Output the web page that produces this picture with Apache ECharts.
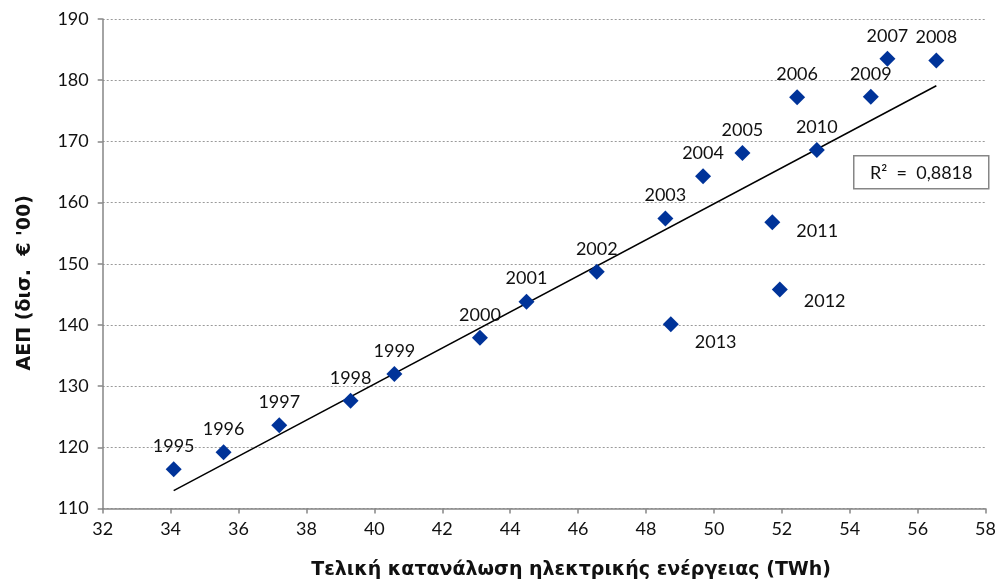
<!DOCTYPE html>
<html>
<head>
<meta charset="utf-8">
<script src="https://cdn.jsdelivr.net/npm/echarts@6/dist/echarts.min.js"></script>
<style>
  html, body { margin: 0; padding: 0; background: #ffffff; }
  #chart { width: 999px; height: 585px; }
</style>
</head>
<body>
<div id="chart"></div>
<script>
// Final electricity consumption (TWh) vs GDP (bn € 2000 prices), 1995–2013
const years = ['1995','1996','1997','1998','1999','2000','2001','2002','2003','2004',
               '2005','2006','2007','2008','2009','2010','2011','2012','2013'];
const consumption = [34.09, 35.56, 37.20, 39.30, 40.59, 43.11, 44.48, 46.55, 48.57, 49.68,
                     50.84, 52.45, 55.11, 56.55, 54.62, 53.03, 51.72, 51.94, 48.73];
const gdp = [116.4, 119.2, 123.6, 127.6, 132.0, 137.9, 143.8, 148.7, 157.4, 164.3,
             168.1, 177.2, 183.5, 183.2, 177.3, 168.6, 156.8, 145.8, 140.1];
const xTicks = { min: 32, max: 58, step: 2 };
const yTicks = { min: 110, max: 190, step: 10 };
const r2Text = 'R\u00B2  =  0,8818';

// Least-squares linear trend over the data points
const n = consumption.length;
const mx = consumption.reduce((a, b) => a + b, 0) / n;
const my = gdp.reduce((a, b) => a + b, 0) / n;
let sxy = 0, sxx = 0;
for (let i = 0; i < n; i++) {
  sxy += (consumption[i] - mx) * (gdp[i] - my);
  sxx += (consumption[i] - mx) * (consumption[i] - mx);
}
const slope = sxy / sxx;
const intercept = my - slope * mx;
const xLo = Math.min(...consumption), xHi = Math.max(...consumption);
const trend = [[xLo, intercept + slope * xLo], [xHi, intercept + slope * xHi]];

// Years whose labels sit to the lower right of the marker
const lowerRight = { '2011': [10, 9], '2012': [10, 12], '2013': [10, 18] };

const points = years.map((y, i) => {
  const item = { name: y, value: [consumption[i], gdp[i]] };
  if (lowerRight[y]) {
    item.label = { position: 'right', offset: lowerRight[y] };
  }
  return item;
});

const numFont = 'Lato, "Open Sans", sans-serif';
const titleFont = '"DejaVu Sans", "Open Sans", sans-serif';
const textColor = '#111111';
const axisGray = '#868686';

const chart = echarts.init(document.getElementById('chart'), null, { renderer: 'canvas' });
chart.setOption({
  animation: false,
  backgroundColor: '#ffffff',
  grid: { left: 102.7, right: 10, top: 19, bottom: 76.5, containLabel: false },
  xAxis: {
    type: 'value',
    min: xTicks.min, max: xTicks.max, interval: xTicks.step,
    name: 'Τελική κατανάλωση ηλεκτρικής ενέργειας (TWh)',
    nameLocation: 'middle',
    nameGap: 52,
    nameTextStyle: { fontFamily: titleFont, fontWeight: 'bold', fontSize: 19, color: textColor,
                     padding: [0, 0, 0, 54] },
    axisLine: { onZero: false, lineStyle: { color: axisGray, width: 1.5 } },
    axisTick: { show: true, inside: false, length: 5, lineStyle: { color: axisGray, width: 1.5 } },
    axisLabel: { margin: 12, fontFamily: numFont, fontSize: 18, color: textColor },
    splitLine: { show: false }
  },
  yAxis: {
    type: 'value',
    min: yTicks.min, max: yTicks.max, interval: yTicks.step,
    name: 'ΑΕΠ (δισ.  € \'00)',
    nameLocation: 'middle',
    nameGap: 68,
    nameRotate: 90,
    nameTextStyle: { fontFamily: titleFont, fontWeight: 'bold', fontSize: 19, color: textColor,
                     padding: [0, 38, 0, 0] },
    axisLine: { show: true, onZero: false, lineStyle: { color: axisGray, width: 1.5 } },
    axisTick: { show: true, inside: false, length: 5, lineStyle: { color: axisGray, width: 1.5 } },
    axisLabel: { margin: 14, fontFamily: numFont, fontSize: 18, color: textColor },
    splitLine: { show: true, lineStyle: { color: '#9a9a9a', type: [2, 2], width: 1 } }
  },
  series: [
    {
      type: 'line',
      data: trend,
      showSymbol: false,
      symbol: 'none',
      silent: true,
      lineStyle: { color: '#000000', width: 1.5 },
      z: 2
    },
    {
      type: 'scatter',
      data: points,
      symbol: 'diamond',
      symbolSize: 16,
      itemStyle: { color: '#003399', opacity: 1 },
      label: {
        show: true,
        position: 'top',
        distance: 6,
        formatter: p => p.name,
        fontFamily: numFont,
        fontSize: 18,
        color: textColor
      },
      z: 3
    }
  ],
  graphic: [
    {
      type: 'group',
      left: 853,
      top: 155,
      z: 10,
      children: [
        {
          type: 'rect',
          shape: { x: 0, y: 0, width: 135, height: 33 },
          style: { fill: '#ffffff', stroke: axisGray, lineWidth: 1.5 }
        },
        {
          type: 'text',
          x: 67.5,
          y: 17,
          style: {
            text: r2Text,
            font: '18px ' + numFont,
            fill: textColor,
            align: 'center',
            verticalAlign: 'middle'
          }
        }
      ]
    }
  ]
});
</script>
</body>
</html>
